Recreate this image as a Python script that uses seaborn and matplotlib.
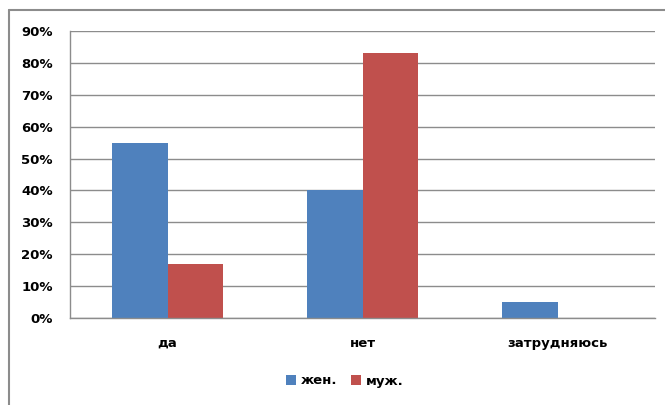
import matplotlib
matplotlib.use("Agg")
import matplotlib.pyplot as plt
import seaborn as sns
import pandas as pd
from matplotlib.lines import Line2D
from matplotlib.patches import Patch
from matplotlib.ticker import PercentFormatter, FixedLocator

categories = ["да", "нет", "затрудняюсь"]
series_names = ["жен.", "муж."]
women = [0.55, 0.40, 0.05]
men = [0.17, 0.83, 0.0]
yticks = [0.0, 0.1, 0.2, 0.3, 0.4, 0.5, 0.6, 0.7, 0.8, 0.9]

colors = ["#4F81BD", "#C0504D"]

df = pd.DataFrame({
    "cat": categories * 2,
    "val": women + men,
    "ser": [series_names[0]] * 3 + [series_names[1]] * 3,
})

sns.set_style("white")
plt.rcParams["font.family"] = ["DejaVu Sans"]
plt.rcParams["text.color"] = "black"
plt.rcParams["xtick.color"] = "black"
plt.rcParams["ytick.color"] = "black"

W, H = 665, 405
fig = plt.figure(figsize=(W / 100, H / 100), dpi=100)
ax = fig.add_axes([70 / W, (H - 318) / H, (655 - 70) / W, (318 - 31) / H])

sns.barplot(data=df, x="cat", y="val", hue="ser", palette=colors, order=categories,
            hue_order=series_names, width=0.57, gap=0, ax=ax, legend=False,
            saturation=1, edgecolor="none", linewidth=0)

ax.set_xlim(-0.5, 2.5)
ax.set_ylim(0, 0.9)
ax.set_yticks(yticks)
ax.yaxis.set_major_formatter(PercentFormatter(1.0, decimals=0))
ax.grid(axis="y", color="#8C8C8C", linewidth=1.0)
ax.set_axisbelow(True)
for s in ["top", "right"]:
    ax.spines[s].set_visible(False)
for s in ["left", "bottom"]:
    ax.spines[s].set_color("#8C8C8C")
    ax.spines[s].set_linewidth(1.0)

ax.set_xlabel("")
ax.set_ylabel("")
ax.tick_params(axis="y", length=4.3, width=0.8, color="#8C8C8C", labelcolor="black",
               pad=8, labelsize=9.5)
ax.tick_params(axis="x", which="major", length=0, pad=13.5, labelsize=9.5, labelcolor="black")
ax.xaxis.set_minor_locator(FixedLocator([-0.5, 0.5, 1.5, 2.5]))
ax.tick_params(axis="x", which="minor", length=3, width=0.8, color="#8C8C8C", direction="out")
for lab in ax.get_xticklabels() + ax.get_yticklabels():
    lab.set_fontweight("bold")

handles = [Patch(facecolor=c, edgecolor="none") for c in colors]
fig.legend(handles, series_names, loc="center", bbox_to_anchor=(345 / W, 1 - 381 / H),
           ncol=2, frameon=False, prop={"weight": "bold", "size": 9.5},
           handlelength=0.75, handleheight=0.75, handletextpad=0.4, columnspacing=1.0,
           labelcolor="black")

# outer chart border (top and left visible)
fig.add_artist(Line2D([9 / W, 1.0], [1 - 10 / H, 1 - 10 / H], color="#8C8C8C", linewidth=1.5,
                      transform=fig.transFigure))
fig.add_artist(Line2D([9 / W, 9 / W], [0.0, 1 - 10 / H], color="#8C8C8C", linewidth=1.5,
                      transform=fig.transFigure))

fig.savefig("out.png", dpi=100, facecolor="white")
